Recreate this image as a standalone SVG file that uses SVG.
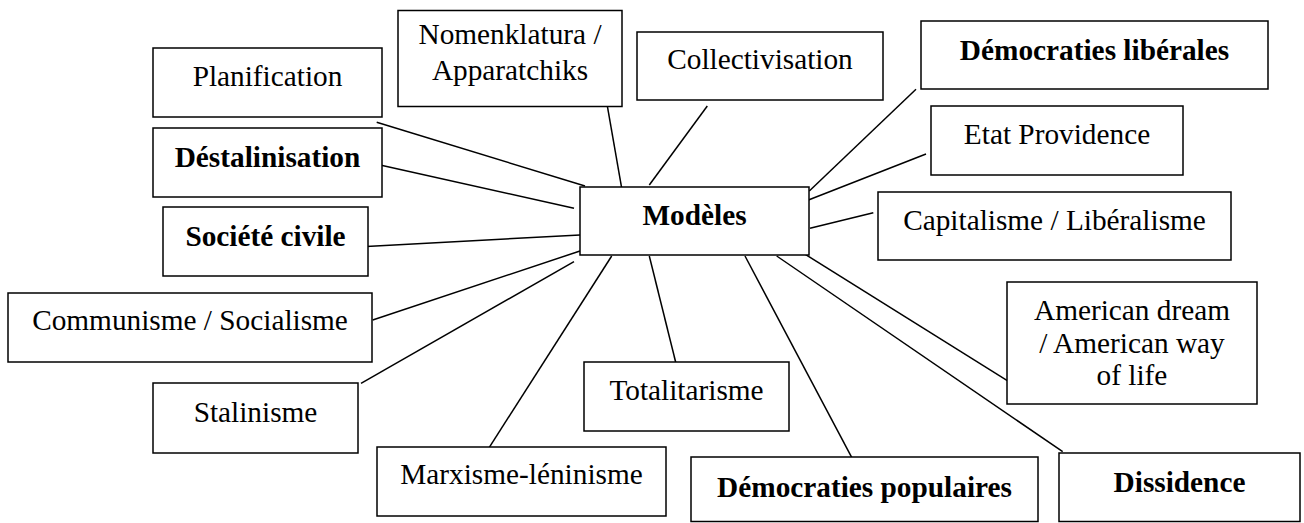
<svg xmlns="http://www.w3.org/2000/svg" width="1304" height="523" viewBox="0 0 1304 523">
<style>
rect.box{fill:#fff;stroke:#000;stroke-width:1.5}
text{font-family:"Liberation Serif","Times New Roman",serif;font-size:29.3px;fill:#000;text-anchor:middle}
text.b{font-weight:bold}
#connectors line{stroke:#000;stroke-width:1.5}
</style>
<rect width="1304" height="523" fill="#fff"/>
<g id="connectors">
<line x1="376.7" y1="122.3" x2="585" y2="186"/>
<line x1="376.7" y1="164.3" x2="574" y2="208.3"/>
<line x1="606.7" y1="102.3" x2="622.3" y2="191.7"/>
<line x1="707.3" y1="106" x2="649.3" y2="185"/>
<line x1="916" y1="89.3" x2="809.3" y2="191"/>
<line x1="926" y1="154" x2="803.3" y2="202"/>
<line x1="873.3" y1="212.7" x2="810" y2="228.3"/>
<line x1="1011.7" y1="383.3" x2="798.3" y2="250"/>
<line x1="1062.7" y1="451.7" x2="776.7" y2="256"/>
<line x1="851.7" y1="457.3" x2="745" y2="256"/>
<line x1="675.7" y1="362.3" x2="649.3" y2="256"/>
<line x1="489.3" y1="447.3" x2="611.7" y2="256"/>
<line x1="361" y1="383.3" x2="574" y2="261.7"/>
<line x1="372.7" y1="320" x2="580" y2="251"/>
<line x1="361.7" y1="246.7" x2="580" y2="235"/>
</g>
<g id="modeles"><rect class="box" x="580" y="187" width="229" height="68"/><text class="b" x="694.5" y="224.5">Modèles</text></g>
<g id="planification"><rect class="box" x="153" y="48" width="229" height="69"/><text x="267.5" y="86">Planification</text></g>
<g id="destalinisation"><rect class="box" x="153" y="128" width="229" height="69"/><text class="b" x="267.5" y="167">Déstalinisation</text></g>
<g id="nomenklatura"><rect class="box" x="398" y="10.5" width="224" height="96"/><text x="510" y="44">Nomenklatura /</text><text x="510" y="80">Apparatchiks</text></g>
<g id="collectivisation"><rect class="box" x="637" y="32" width="246" height="68"/><text x="760" y="68.5">Collectivisation</text></g>
<g id="democraties-liberales"><rect class="box" x="921" y="21" width="347" height="68"/><text class="b" x="1094.5" y="60">Démocraties libérales</text></g>
<g id="etat-providence"><rect class="box" x="931" y="106" width="252" height="69"/><text x="1057" y="144">Etat Providence</text></g>
<g id="capitalisme"><rect class="box" x="878" y="192" width="353" height="68"/><text x="1054.5" y="229.5">Capitalisme / Libéralisme</text></g>
<g id="american"><rect class="box" x="1007" y="282" width="250" height="122"/><text x="1132" y="320">American dream</text><text x="1132" y="352.5">/ American way</text><text x="1132" y="385">of life</text></g>
<g id="dissidence"><rect class="box" x="1059" y="453" width="241" height="68.5"/><text class="b" x="1179.5" y="491.5">Dissidence</text></g>
<g id="democraties-populaires"><rect class="box" x="691" y="457" width="347" height="64.5"/><text class="b" x="864.5" y="496.5">Démocraties populaires</text></g>
<g id="totalitarisme"><rect class="box" x="584" y="362" width="205" height="69"/><text x="686.5" y="400">Totalitarisme</text></g>
<g id="marxisme"><rect class="box" x="377" y="447" width="289" height="69"/><text x="521.5" y="483.5">Marxisme-léninisme</text></g>
<g id="stalinisme"><rect class="box" x="153" y="383" width="205" height="70"/><text x="255.5" y="421.5">Stalinisme</text></g>
<g id="communisme"><rect class="box" x="8" y="293" width="364" height="69"/><text x="190" y="330">Communisme / Socialisme</text></g>
<g id="societe-civile"><rect class="box" x="163" y="207" width="205" height="69"/><text class="b" x="265.5" y="246">Société civile</text></g>
</svg>
